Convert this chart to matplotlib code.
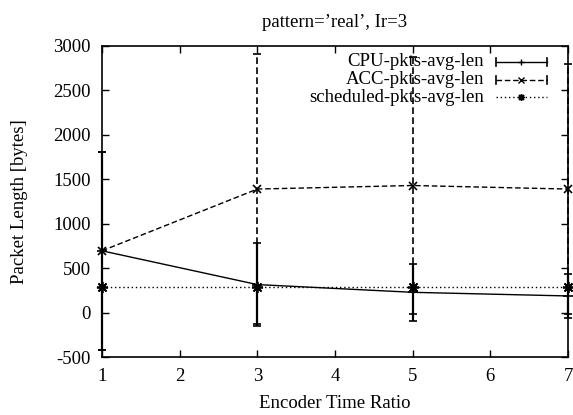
import matplotlib
matplotlib.use("Agg")
import matplotlib.pyplot as plt

# encoder time ratio on x
ratios = [1, 3, 5, 7]

# mean packet length and std for every series (bytes)
cpuMean = [695, 315, 228, 187]
cpuStd = [1115, 465, 320, 247]
accMean = [695, 1390, 1430, 1390]
accStd = [1115, 1520, 1445, 1410]
schedMean = [290, 290, 290, 290]

labels = ["CPU-pkts-avg-len", "ACC-pkts-avg-len", "scheduled-pkts-avg-len"]
title = "pattern=\u2019real\u2019, Ir=3"

plt.rcParams['font.family'] = ['Liberation Serif', 'DejaVu Serif']
plt.rcParams['font.size'] = 13.5
plt.rcParams['axes.unicode_minus'] = False

fig = plt.figure(figsize=(5.73, 4.15), dpi=100)
ax = fig.add_axes([102/573, 1-357/415, 466/573, 311/415])

astr = (8, 2, 0)  # gnuplot style asterisk
dashed = (0, (4, 2))
dotted = (0, (1, 2))

cpu = ax.errorbar(ratios, cpuMean, yerr=cpuStd, color="black", lw=1, elinewidth=1.6,
                  capsize=3, capthick=1.6, marker="+", ms=7, mew=1.2, clip_on=False, zorder=3)
acc = ax.errorbar(ratios, accMean, yerr=accStd, color="black", lw=1, ls=dashed, elinewidth=1.2,
                  capsize=3, capthick=1.2, marker="x", ms=6, mew=1.2, clip_on=False, zorder=3)
acc[2][0].set_linestyle(dashed)
sched, = ax.plot(ratios, schedMean, color="black", lw=1, ls=dotted, marker=astr, ms=8, mew=1.3,
                 clip_on=False, zorder=3)

ax.set_xlim(1, 7)
ax.set_ylim(-500, 3000)
ax.set_xticks(range(1, 8))
ax.set_yticks(range(-500, 3001, 500))
ax.tick_params(direction="in", length=5, width=1, top=True, right=True, pad=8)
for s in ax.spines.values():
    s.set_linewidth(1.2)

ax.set_title(title, fontsize=13.5, pad=14)
ax.set_xlabel("Encoder Time Ratio", labelpad=7)
ax.set_ylabel("Packet Length [bytes]", labelpad=18)

# gnuplot style key: text right aligned, sample to the right
keyY = [0.949, 0.891, 0.836]
styles = [("-", "+", True), (dashed, "x", True), (dotted, astr, False)]
for lab, y, (ls, mk, caps) in zip(labels, keyY, styles):
    ax.text(0.82, y, lab, ha="right", va="center", transform=ax.transAxes)
    ax.plot([0.845, 0.955], [y, y], color="black", lw=1, ls=ls, transform=ax.transAxes, clip_on=False)
    ax.plot([0.90], [y], color="black", marker=mk, ms=5, mew=1, transform=ax.transAxes, clip_on=False)
    if caps:
        for cx in (0.845, 0.955):
            ax.plot([cx, cx], [y-0.012, y+0.012], color="black", lw=1.2, transform=ax.transAxes)

fig.savefig("out.png", dpi=100)
